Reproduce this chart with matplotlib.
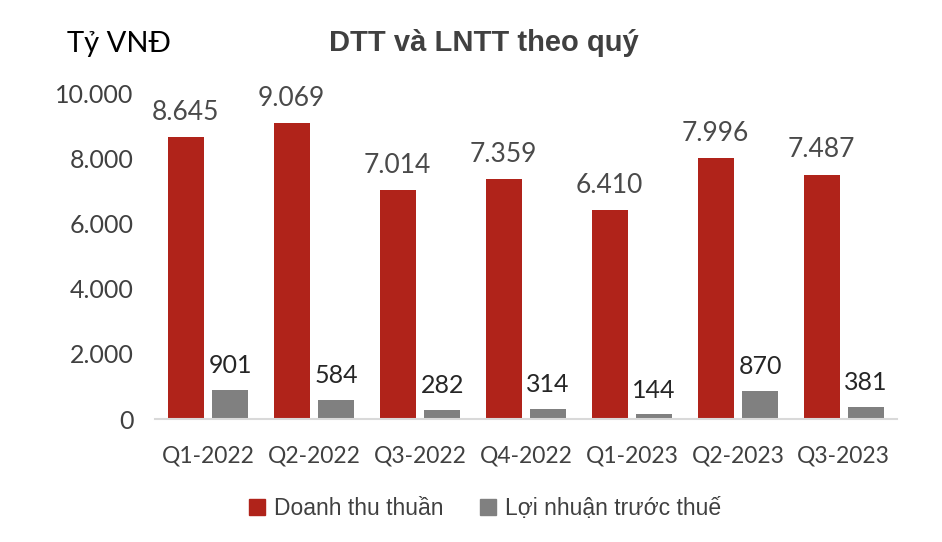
import matplotlib
matplotlib.use("Agg")
import matplotlib.pyplot as plt
from matplotlib.patches import Patch
import numpy as np

quarters = ["Q1-2022", "Q2-2022", "Q3-2022", "Q4-2022", "Q1-2023", "Q2-2023", "Q3-2023"]
revenue = [8645, 9069, 7014, 7359, 6410, 7996, 7487]
profit = [901, 584, 282, 314, 144, 870, 381]

red = "#B0231A"
gray = "#808080"
txt = "#404040"
num_font = ["Lato", "DejaVu Sans"]


def fmt(v):
    return f"{v:,.0f}".replace(",", ".")


fig = plt.figure(figsize=(9.42, 5.42), dpi=100)
ax = fig.add_axes([0.1645, 0.2269, 0.7875, 0.6015])

x = np.arange(len(quarters))
w = 0.34
off = 0.21
ax.bar(x - off, revenue, w, color=red)
ax.bar(x + off, profit, w, color=gray)

for xi, v in zip(x, revenue):
    ax.annotate(fmt(v), (xi - off, v), xytext=(0, 9), textcoords="offset points",
                ha="center", va="bottom", fontsize=19, color="#4a4a4a", family=num_font)
for xi, v in zip(x, profit):
    ax.annotate(fmt(v), (xi + off, v), xytext=(0, 9), textcoords="offset points",
                ha="center", va="bottom", fontsize=18, color="#262626", family=num_font)

ax.set_xlim(-0.5, len(quarters) - 0.5)
ax.set_ylim(0, 10000)
ax.set_yticks(range(0, 10001, 2000))
ax.set_yticklabels([fmt(v) for v in range(0, 10001, 2000)], family=num_font,
                   fontsize=18, color=txt)
ax.set_xticks(x)
ax.set_xticklabels(quarters, family=num_font, fontsize=16.5, color=txt)
ax.tick_params(axis="both", length=0)
ax.tick_params(axis="y", pad=15.5)
ax.tick_params(axis="x", pad=19)

for s in ["top", "right", "left"]:
    ax.spines[s].set_visible(False)
ax.spines["bottom"].set_color("#D9D9D9")
ax.spines["bottom"].set_linewidth(1.5)

fig.text(0.514, 0.92, "DTT và LNTT theo quý", ha="center", va="center",
         fontsize=21, fontweight="bold", color="#404040", family="Liberation Sans")
fig.text(0.071, 0.918, "Tỷ VNĐ", ha="left", va="center", fontsize=21,
         color="#000000", family=num_font)

handles = [Patch(color=red, label="Doanh thu thuần"),
           Patch(color=gray, label="Lợi nhuận trước thuế")]
fig.legend(handles=handles, loc="center", bbox_to_anchor=(0.515, 0.062), ncol=2,
           frameon=False, prop={"family": "Liberation Sans", "size": 16.5},
           handlelength=0.7, handleheight=0.7, handletextpad=0.4, columnspacing=1.6,
           labelcolor=txt)

fig.savefig("out.png", dpi=100)
